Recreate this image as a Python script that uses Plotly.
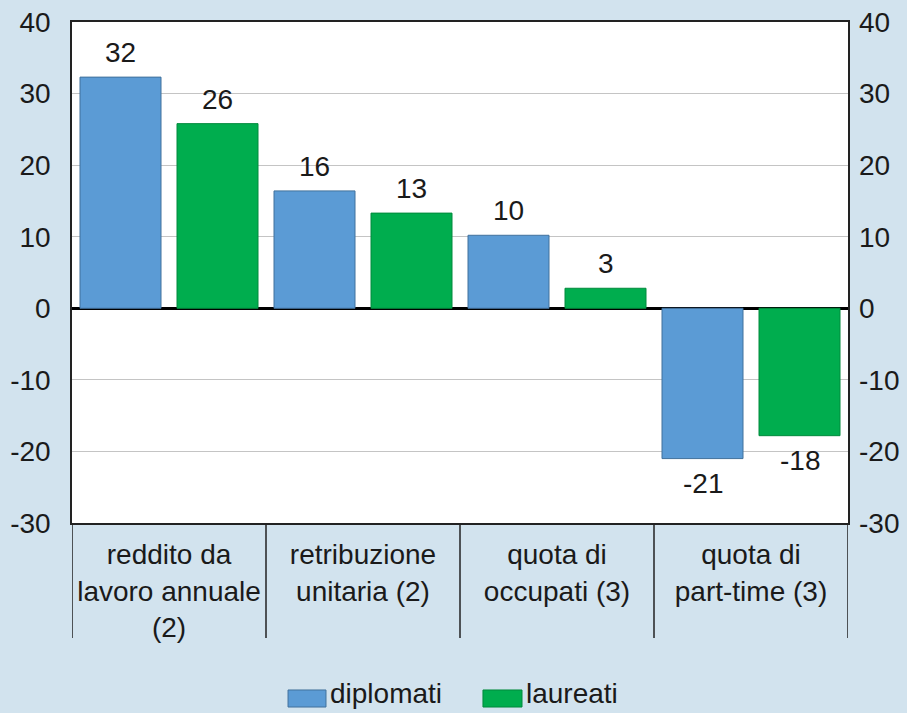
import plotly.graph_objects as go

categories = ["reddito da<br>lavoro annuale<br>(2)", "retribuzione<br>unitaria (2)",
              "quota di<br>occupati (3)", "quota di<br>part-time (3)"]
series_names = ["diplomati", "laureati"]
diplomati = [32.3, 16.4, 10.2, -21.0]
laureati = [25.8, 13.3, 2.8, -17.8]
y_ticks = [40, 30, 20, 10, 0, -10, -20, -30]
y_tick_labels = ["40", "30", "20", "10", "0", "-10", "-20", "-30"]

colors = ["#5b9bd5", "#00ad4e"]
edges = ["#41719c", "#008a3c"]
bg = "#d2e3ee"
FONT = "Liberation Sans, Arial, sans-serif"
FS = 28

xs = list(range(len(categories)))
bargap = 0.0
groupgap = 0.165

fig = go.Figure()
for i, (name, vals) in enumerate(zip(series_names, [diplomati, laureati])):
    fig.add_trace(go.Bar(x=xs, y=vals, name=name, marker_color=colors[i],
                         marker_line_color=edges[i], marker_line_width=1,
                         showlegend=False, hoverinfo="x+y"))

# invisible trace to anchor right axis
fig.add_trace(go.Scatter(x=xs, y=diplomati, yaxis="y2", mode="markers",
                         marker=dict(opacity=0), showlegend=False, hoverinfo="skip"))

annotations = []
slot = (1 - bargap) / 2
for i, vals in enumerate([diplomati, laureati]):
    off = -slot / 2 + i * slot
    for x, v in zip(xs, vals):
        annotations.append(dict(
            x=x + off, y=v, xref="x", yref="y", text=str(round(v)),
            showarrow=False, font=dict(family=FONT, size=FS, color="#1a1a1a"),
            yanchor="bottom" if v >= 0 else "top",
            yshift=7 if v >= 0 else -7))

# custom legend
legend_x = [(0.2784, 0.3273), (0.5296, 0.5799)]
shapes = []
for i, name in enumerate(series_names):
    x0, x1 = legend_x[i]
    shapes.append(dict(type="rect", xref="paper", yref="paper", x0=x0, x1=x1,
                       y0=-0.3673, y1=-0.3333, fillcolor=colors[i],
                       line=dict(color=edges[i], width=1)))
    annotations.append(dict(x=x1 + 0.004, y=-0.3413, xref="paper", yref="paper",
                            text=name, showarrow=False, xanchor="left", yanchor="middle",
                            borderpad=0,
                            font=dict(family=FONT, size=FS, color="#1a1a1a")))

# category separators below the plot
for b in [x - 0.5 for x in xs] + [xs[-1] + 0.5]:
    shapes.append(dict(type="line", xref="x", yref="paper", x0=b, x1=b,
                       y0=0, y1=-0.2295, line=dict(color="#222222", width=1.5)))

yrange = [min(y_ticks), max(y_ticks)]
fig.update_layout(
    width=907, height=713,
    margin=dict(l=72, r=59, t=22, b=190, autoexpand=False),
    paper_bgcolor=bg, plot_bgcolor="white",
    barmode="group", bargap=bargap, bargroupgap=groupgap,
    font=dict(family=FONT, size=FS, color="#1a1a1a"),
    xaxis=dict(tickmode="array", tickvals=xs, ticktext=categories,
               range=[-0.5, len(xs) - 0.5], showline=True, linecolor="#222222",
               linewidth=1.5, mirror=True, ticks="", showgrid=False, automargin=False,
               tickfont=dict(family=FONT, size=FS, color="#1a1a1a"),
               ticklabelstandoff=6),
    yaxis=dict(range=yrange, tickvals=y_ticks, ticktext=y_tick_labels,
               showline=True, linecolor="#222222", automargin=False,
               linewidth=1.5, mirror=True, gridcolor="#c4c4c4", gridwidth=1,
               zeroline=True, zerolinecolor="#000000", zerolinewidth=2.5,
               ticks="", ticklabelstandoff=14,
               tickfont=dict(family=FONT, size=FS, color="#1a1a1a")),
    yaxis2=dict(range=yrange, tickvals=y_ticks, ticktext=y_tick_labels,
                overlaying="y", side="right", automargin=False,
                anchor="x", showgrid=False, zeroline=False, ticks="",
                ticklabelstandoff=10,
                tickfont=dict(family=FONT, size=FS, color="#1a1a1a")),
    annotations=annotations, shapes=shapes,
    showlegend=False,
)

fig.write_html("out.html", config={"displayModeBar": False},
               post_script="document.body.style.margin='0';document.body.style.overflow='hidden';")
